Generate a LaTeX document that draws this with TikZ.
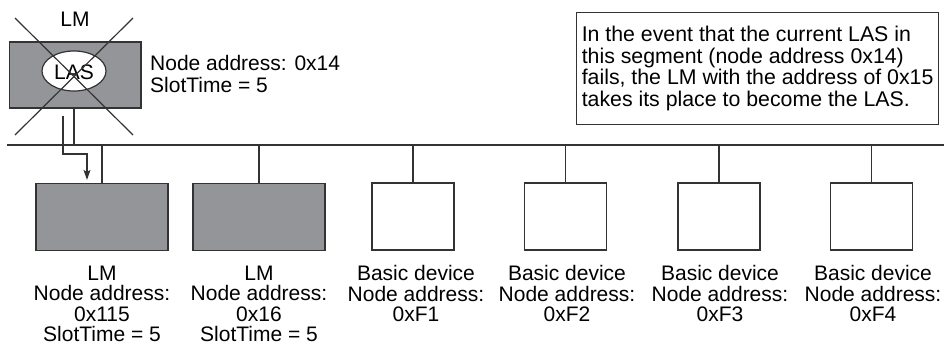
\documentclass[tikz,border=0pt]{standalone}
\usepackage{fontspec}
\setmainfont{Liberation Sans}
\usetikzlibrary{arrows.meta,shapes.geometric,calc}
\definecolor{boxgray}{HTML}{939598}
\definecolor{linegray}{HTML}{333333}
\begin{document}
\begin{tikzpicture}[x=1pt,y=-1pt,
  txt/.style={font=\fontsize{21}{20.5}\selectfont, inner sep=0pt, text=black},
  lmbox/.style={draw=linegray, line width=1.2pt, fill=boxgray, minimum width=132pt, minimum height=67pt, inner sep=0pt},
  devbox/.style={draw=linegray, line width=1.2pt, fill=white, minimum width=82pt, minimum height=67pt, inner sep=0pt},
  conn/.style={draw=linegray, line width=1.2pt},
  lbl/.style={txt, align=center, anchor=north}]
\useasboundingbox (0,0) rectangle (944,351);
% failed LM (current LAS)
\node[lmbox, minimum width=131.5pt, minimum height=66pt] (lm0) at (75.25,75) {};
\node[draw=linegray, line width=1.2pt, fill=white, ellipse, minimum width=64pt, minimum height=40pt, inner sep=0pt] (las) at (74,71) {};
\node[txt] (lastxt) at (74,72) {LAS};
\node[txt] (lmtop) at (75,19) {LM};
\coordinate (x1a) at (15,18); \coordinate (x1b) at (133,135);
\coordinate (x2a) at (133,18); \coordinate (x2b) at (15,135);
\draw[conn] (x1a) -- (x1b);
\draw[conn] (x2a) -- (x2b);
\node[txt, anchor=north west, align=left] (lm0info) at (150,55) {Node address: 0x14\\[1.5pt]SlotTime = 5};
% bus
\coordinate (busL) at (7,145);
\coordinate (busR) at (944,145);
\draw[conn] (busL) -- (busR);
% devices
\node[lmbox] (b1) at (102,217) {};
\node[lmbox] (b2) at (259,217) {};
\node[devbox] (f1) at (413,216.5) {};
\node[devbox] (f2) at (565.5,216.5) {};
\node[devbox] (f3) at (719,216.5) {};
\node[devbox] (f4) at (871.5,216.5) {};
% connectors
\draw[conn] (lm0.south -| 74,0) -- (busL -| 74,0);
\foreach \n in {b1,b2,f1,f2,f3,f4}{
  \draw[conn] (\n.north) -- (\n.north |- busL);
}
% transfer arrow
\coordinate (arrS) at (63,116);
\coordinate (arrM) at (63,154);
\draw[conn, -{Stealth[length=10pt,width=7pt,inset=2pt]}] (arrS) -- (arrM) -- (arrM -| 87,0) -- ($(b1.north -| 87,0)+(0,-3)$);
% labels
\node[lbl] (b1l) at (102,265.5) {LM\\Node address:\\0x115\\SlotTime = 5};
\node[lbl] (b2l) at (259,265.5) {LM\\Node address:\\0x16\\SlotTime = 5};
\node[lbl] (f1l) at (416,265.5) {Basic device\\Node address:\\0xF1};
\node[lbl] (f2l) at (567,265.5) {Basic device\\Node address:\\0xF2};
\node[lbl] (f3l) at (720,265.5) {Basic device\\Node address:\\0xF3};
\node[lbl] (f4l) at (873,265.5) {Basic device\\Node address:\\0xF4};
% note
\node[draw=linegray, line width=1.2pt, anchor=north west, minimum width=362pt, minimum height=112.5pt, inner sep=0pt, align=left, font=\fontsize{21.3}{21.7}\selectfont] (note) at (576,11.5) {In the event that the current LAS in\\this segment (node address 0x14)\\fails, the LM with the address of 0x15\\takes its place to become the LAS.};
\end{tikzpicture}
\end{document}
